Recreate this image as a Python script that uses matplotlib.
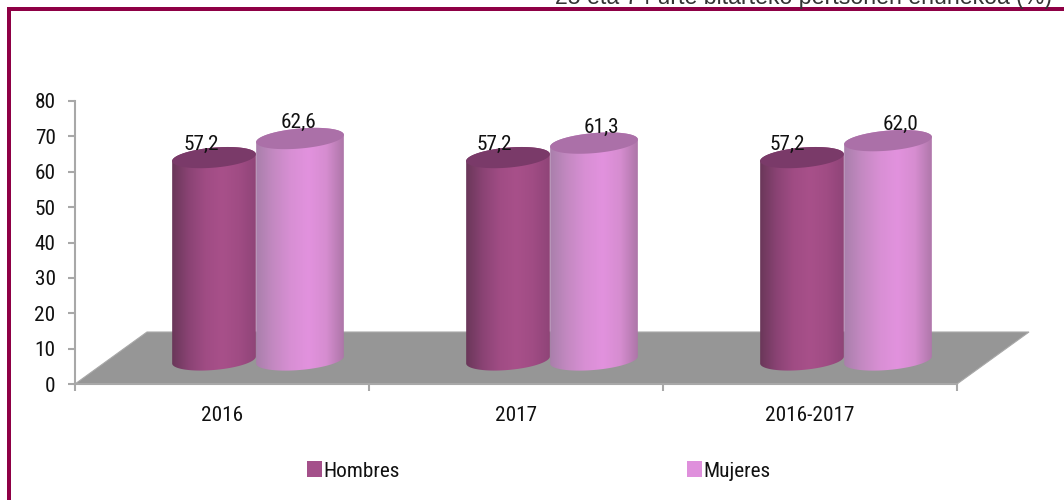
import numpy as np
import matplotlib
matplotlib.use('Agg')
import matplotlib.pyplot as plt
from matplotlib.colors import LinearSegmentedColormap
from matplotlib.patches import Patch, Polygon, Rectangle

categories = ['2016', '2017', '2016-2017']
hombres = [57.2, 57.2, 57.2]
mujeres = [62.6, 61.3, 62.0]
yticks = [0, 10, 20, 30, 40, 50, 60, 70, 80]
title = '25 eta 74 urte bitarteko pertsonen ehunekoa (%)'

W, H = 1064, 500
FONT = ['Roboto Condensed', 'Sofia Sans Condensed', 'Roboto']
FS = 15.3
CRIMSON = '#8e0045'
AXIS_GREY = '#a8a8a8'

# layout in pixels
X0, X1, Y_TOP, Y_BOT = 75, 957, 101, 384
PX_X = (X1 - X0) / len(categories)
PX_Y = (Y_BOT - Y_TOP) / 80
BASE = 6.8  # cylinders stand on the floor, not on the axis
label_dx_h = [-13, -14, -15]
label_dx_m = [-2, 7, 12]

plt.rcParams['font.family'] = FONT
fig = plt.figure(figsize=(W / 100, H / 100), dpi=100)
ax = fig.add_axes([X0 / W, 1 - Y_BOT / H, (X1 - X0) / W, (Y_BOT - Y_TOP) / H])


def ellipse(cx, cy, a, b, t):
    # tilted ellipse, size given in pixels, result in data coords
    tilt = np.radians(5)
    ex = a * np.cos(t) * np.cos(tilt) - b * np.sin(t) * np.sin(tilt)
    ey = a * np.cos(t) * np.sin(tilt) + b * np.sin(t) * np.cos(tilt)
    return np.column_stack((cx + ex / PX_X, cy + ey / PX_Y))


def cylinder(cx, value, a, cmap, top_col, z):
    b = 10
    top = BASE + value
    low = ellipse(cx, BASE, a, b, np.linspace(np.pi, 2 * np.pi, 60))
    up = ellipse(cx, top, a, b, np.linspace(0, np.pi, 60))
    body = Polygon(np.vstack((low, up)), closed=True, fc='none', ec='none',
                   transform=ax.transData)
    ax.add_patch(body)
    grad = np.linspace(0, 1, 256).reshape(1, -1)
    im = ax.imshow(grad, cmap=cmap, aspect='auto', zorder=z, interpolation='bilinear',
                   extent=(cx - a / PX_X, cx + a / PX_X, BASE - 4, top + 4))
    im.set_clip_path(body)
    cap = ellipse(cx, top, a, b, np.linspace(0, 2 * np.pi, 120))
    ax.add_patch(Polygon(cap, closed=True, fc=top_col, ec='none', zorder=z + 0.1))


cmap_h = LinearSegmentedColormap.from_list('h', ['#6a3759', '#8a4374', '#a04c84', '#a8508a', '#a04c84', '#8f4478'])
cmap_m = LinearSegmentedColormap.from_list('m', ['#a97fab', '#c489c2', '#d88fd4', '#e292de', '#d68dd0', '#ad76a8'])

# grey floor
floor = [(0, 0), ((147 - X0) / PX_X, (Y_BOT - 332) / PX_Y),
         ((1029 - X0) / PX_X, (Y_BOT - 332) / PX_Y), (3, 0)]
ax.add_patch(Polygon(floor, closed=True, fc='#969696', ec='#a8a8a8', lw=0.8,
                     clip_on=False, zorder=1))

x = np.arange(len(categories))
for i in x:
    cx_h = i + (0.5 - 8 / PX_X)
    cx_m = i + (0.5 + 78 / PX_X)
    cylinder(cx_h, hombres[i], 42, cmap_h, '#7a3a69', 2)
    cylinder(cx_m, mujeres[i], 44, cmap_m, '#ab70a8', 3)
    ax.text(cx_h + label_dx_h[i] / PX_X, BASE + hombres[i] + 13 / PX_Y,
            f'{hombres[i]:.1f}'.replace('.', ','), ha='center', va='center',
            fontsize=FS, color='#111111', zorder=5)
    ax.text(cx_m + label_dx_m[i] / PX_X, BASE + mujeres[i] + 16 / PX_Y,
            f'{mujeres[i]:.1f}'.replace('.', ','), ha='center', va='center',
            fontsize=FS, color='#111111', zorder=5)

ax.set_xlim(0, 3)
ax.set_ylim(0, 80)
ax.patch.set_visible(False)
for s in ['top', 'right']:
    ax.spines[s].set_visible(False)
for s in ['left', 'bottom']:
    ax.spines[s].set_color(AXIS_GREY)
    ax.spines[s].set_linewidth(1.5)
ax.set_yticks(yticks)
ax.set_yticklabels([str(v) for v in yticks], fontsize=FS, color='#111111')
ax.set_xticks([0, 1, 2, 3])
ax.set_xticklabels([])
ax.set_xticks(x + 0.5, categories, minor=True, fontsize=FS, color='#111111')
ax.tick_params(axis='y', length=5, width=1.5, color=AXIS_GREY, pad=9)
ax.tick_params(axis='x', which='major', length=5, width=1.5, color=AXIS_GREY)
ax.tick_params(axis='x', which='minor', length=0, pad=16)

# frame around the figure, open on the right and bottom
fig.add_artist(Rectangle((7 / W, 0), 4 / W, 1 - 7 / H, transform=fig.transFigure, fc=CRIMSON, ec='none'))
fig.add_artist(Rectangle((7 / W, 1 - 11 / H), 1 - 7 / W, 4 / H, transform=fig.transFigure, fc=CRIMSON, ec='none'))

# title is cut by the top of the image
fig.text(1052 / W, 1 - 4 / H, title, ha='right', va='baseline', fontsize=16.65,
         family='Liberation Sans', color='#333333')

handles = [Patch(fc='#a4508a', label='Hombres'), Patch(fc='#df90dc', label='Mujeres')]
fig.legend(handles=handles, ncol=2, frameon=False, loc='center left',
           bbox_to_anchor=(288 / W, 1 - 471 / H), prop={'size': FS},
           handlelength=0.72, handleheight=0.72, handletextpad=0.05, columnspacing=13.5,
           labelcolor='#111111')

fig.savefig('out.png', dpi=100)
